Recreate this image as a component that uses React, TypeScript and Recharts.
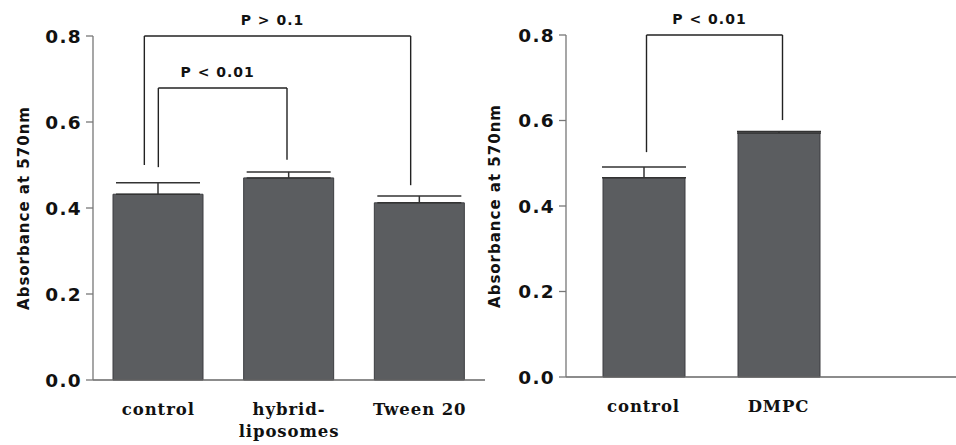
import { BarChart, Bar, XAxis, YAxis, ErrorBar, ReferenceLine } from "recharts"

// left panel
const leftGroups = ["control", "hybrid-\nliposomes", "Tween 20"]
const leftMeans = [0.432, 0.47, 0.412]
const leftErr = [0.027, 0.014, 0.016]

// right panel
const rightGroups = ["control", "DMPC"]
const rightMeans = [0.466, 0.571]
const rightErr = [0.025, 0.003]

const yTicks = [0, 0.2, 0.4, 0.6, 0.8]

type Bracket = {
  from: string
  to: string
  top: number
  fromEnd: number
  toEnd: number
  label: string
}

const leftBrackets: Bracket[] = [
  { from: "control", to: "Tween 20", top: 0.8, fromEnd: 0.5, toEnd: 0.453, label: "P > 0.1" },
  { from: "control", to: "hybrid-\nliposomes", top: 0.679, fromEnd: 0.495, toEnd: 0.512, label: "P < 0.01" },
]
const rightBrackets: Bracket[] = [
  { from: "control", to: "DMPC", top: 0.8, fromEnd: 0.526, toEnd: 0.601, label: "P < 0.01" },
]

// small pixel nudges of bracket legs, per bracket [from, to]
const leftShift = [[-14, -9], [0, -2]]
const rightShift = [[3, 4]]

const BAR = "#5b5d60"
const INK = "#222"
const AXIS = "#777"
const SANS = "'DejaVu Sans', Verdana, sans-serif"
const SERIF = "'DejaVu Serif', serif"

const rows = (groups: string[], means: number[], errs: number[]) =>
  groups.map((g, i) => ({ name: g, value: means[i], err: [0, errs[i]] }))

function CatTick({ x, y, payload }: any) {
  const lines = String(payload.value).split("\n")
  return (
    <text x={x} y={y + 27} textAnchor="middle" fontFamily={SERIF} fontWeight="bold" fontSize={16.5} fill="#111" letterSpacing={0.9}>
      {lines.map((l, i) => (
        <tspan key={i} x={x} dy={i === 0 ? 0 : 22}>{l}</tspan>
      ))}
    </text>
  )
}

function YLabel({ viewBox, cx }: any) {
  const cy = viewBox.y + viewBox.height / 2
  return (
    <text x={cx} y={cy} transform={`rotate(-90 ${cx} ${cy})`} textAnchor="middle" dominantBaseline="central"
      fontFamily={SANS} fontWeight="bold" fontSize={15} fill="#111" letterSpacing={1}>
      Absorbance at 570nm
    </text>
  )
}

function bracketLines(b: Bracket, i: number, shift: number[]) {
  const [d1, d2] = shift
  const vLeg = (dx: number) => (p: any) => (
    <line x1={p.x1 + dx} y1={p.y1} x2={p.x2 + dx} y2={p.y2} stroke={INK} strokeWidth={1.4} />
  )
  const hLine = (p: any) => (
    <g>
      <line x1={p.x1 + d1} y1={p.y1} x2={p.x2 + d2} y2={p.y2} stroke={INK} strokeWidth={1.4} />
      <text x={(p.x1 + d1 + p.x2 + d2) / 2 - 5} y={p.y1 - 11} textAnchor="middle" fontFamily={SANS}
        fontWeight="bold" fontSize={14} fill="#111" letterSpacing={1}>
        {b.label}
      </text>
    </g>
  )
  return [
    <ReferenceLine key={`h${i}`} segment={[{ x: b.from, y: b.top }, { x: b.to, y: b.top }]} shape={hLine} />,
    <ReferenceLine key={`a${i}`} segment={[{ x: b.from, y: b.top }, { x: b.from, y: b.fromEnd }]} shape={vLeg(d1)} />,
    <ReferenceLine key={`b${i}`} segment={[{ x: b.to, y: b.top }, { x: b.to, y: b.toEnd }]} shape={vLeg(d2)} />,
  ]
}

function Panel({ data, width, top, axisW, xH, barSize, brackets, shift, padding, labelX }: any) {
  return (
    <BarChart width={width} height={445} data={data} margin={{ top, right: 4, bottom: 5, left: 0 }}>
      <XAxis dataKey="name" type="category" height={xH} tickLine={false} interval={0}
        axisLine={{ stroke: "#666", strokeWidth: 1.5 }} tick={<CatTick />} padding={padding} />
      <YAxis domain={[0, 0.8]} ticks={yTicks} width={axisW} tickFormatter={(v: number) => v.toFixed(1)}
        axisLine={{ stroke: AXIS, strokeWidth: 1.3 }} tickLine={{ stroke: AXIS, strokeWidth: 1.3 }} tickSize={7} tickMargin={4}
        tick={{ fill: "#111", fontFamily: SANS, fontWeight: "bold", fontSize: 18.5, letterSpacing: 1.3 }}
        label={{ content: (p: any) => <YLabel {...p} cx={labelX} /> }} />
      <Bar dataKey="value" fill={BAR} stroke="#3c3d40" strokeWidth={1} barSize={barSize} isAnimationActive={false}>
        <ErrorBar dataKey="err" direction="y" width={42} stroke="#333" strokeWidth={1.5} isAnimationActive={false} />
      </Bar>
      {brackets.flatMap((b: Bracket, i: number) => bracketLines(b, i, shift[i]))}
    </BarChart>
  )
}

export default function App() {
  return (
    <div style={{ position: "absolute", left: 0, top: 0, width: 956, height: 445, background: "#fff" }}>
      <div style={{ position: "absolute", left: 0, top: 0 }}>
        <Panel data={rows(leftGroups, leftMeans, leftErr)} width={489} top={36} axisW={93} xH={60}
          barSize={90} brackets={leftBrackets} shift={leftShift} padding={{ left: 0, right: 0 }} labelX={24} />
      </div>
      <div style={{ position: "absolute", left: 470, top: 0 }}>
        <Panel data={rows(rightGroups, rightMeans, rightErr)} width={490} top={35} axisW={96} xH={63}
          barSize={82} brackets={rightBrackets} shift={rightShift} padding={{ left: 10, right: 110 }} labelX={25} />
      </div>
    </div>
  )
}
